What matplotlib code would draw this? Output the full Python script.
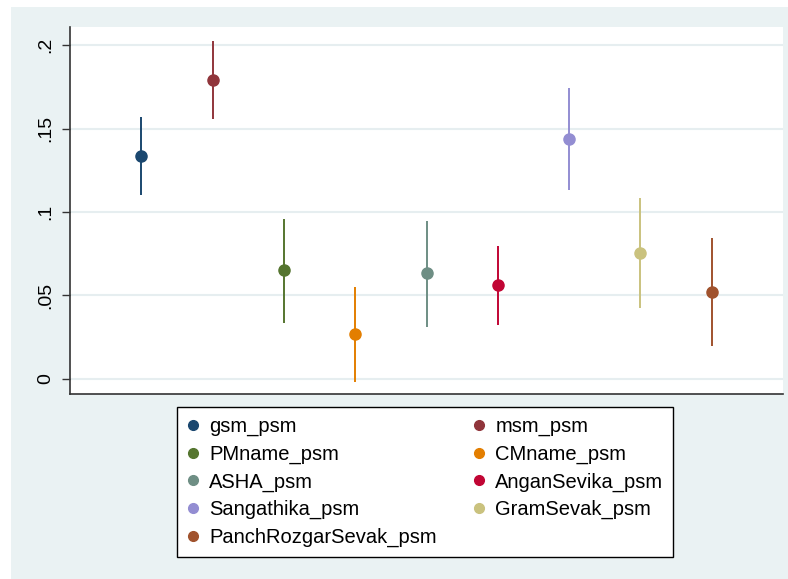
import matplotlib
matplotlib.use("Agg")
import matplotlib.pyplot as plt
from matplotlib.lines import Line2D
from matplotlib.patches import Rectangle

plt.rcParams['font.family'] = ['Liberation Sans', 'DejaVu Sans']

# coefficient estimates with 95% confidence bounds
names = ["gsm_psm", "msm_psm", "PMname_psm", "CMname_psm", "ASHA_psm",
         "AnganSevika_psm", "Sangathika_psm", "GramSevak_psm", "PanchRozgarSevak_psm"]
coef = [0.1335, 0.179, 0.0651, 0.0269, 0.0635, 0.0561, 0.1437, 0.0754, 0.0519]
lower = [0.110, 0.1555, 0.0337, -0.0016, 0.0313, 0.0323, 0.1132, 0.0423, 0.0196]
upper = [0.157, 0.2026, 0.0958, 0.0553, 0.0948, 0.0796, 0.1743, 0.1086, 0.0842]
colors = ["#1A476F", "#90353B", "#55752F", "#E37E00", "#6E8E84",
          "#C10534", "#938DD2", "#CAC27E", "#A0522D"]
yticks = [0, 0.05, 0.1, 0.15, 0.2]
ytick_labels = ["0", ".05", ".1", ".15", ".2"]

W, H = 788, 579
bg = "#EAF2F3"

fig = plt.figure(figsize=(W / 100, H / 100), dpi=100)
fig.patch.set_facecolor("white")
# graph region
fig.patches.append(Rectangle((11 / W, 0), 1 - 11 / W, 1 - 7 / H,
                             transform=fig.transFigure, facecolor=bg,
                             edgecolor="none", zorder=-5))

ax = fig.add_axes([70 / W, (H - 394) / H, 713 / W, (394 - 27) / H])
ax.set_facecolor("white")
ax.set_zorder(1)

for i, (c, lo, hi, col) in enumerate(zip(coef, lower, upper, colors)):
    x = i + 1
    ax.vlines(x, lo, hi, color=col, linewidth=1.4, zorder=3)
    ax.plot(x, c, "o", color=col, markersize=8, zorder=4)

ax.set_xlim(0, 10)
ax.set_ylim(-0.009, 0.2108)
ax.set_xticks([])
ax.set_yticks(yticks)
ax.set_yticklabels(ytick_labels, rotation=90, va="center", fontsize=14)
ax.tick_params(axis="y", length=6, width=1, pad=5, color="#333333")
ax.grid(axis="y", color="#E6EEF0", linewidth=1.5)
ax.set_axisbelow(True)
for s in ["top", "right"]:
    ax.spines[s].set_visible(False)
for s in ["left", "bottom"]:
    ax.spines[s].set_color("#333333")
    ax.spines[s].set_linewidth(1.2)

# legend laid out row by row, two columns
handles = [Line2D([], [], marker="o", linestyle="none", color=col, markersize=7)
           for col in colors]
order = [0, 2, 4, 6, 8, 1, 3, 5, 7]
leg = fig.legend([handles[k] for k in order], [names[k] for k in order],
                 ncol=2, loc="upper left",
                 bbox_to_anchor=(177 / W, (H - 407) / H),
                 fontsize=14.5, frameon=True, fancybox=False,
                 edgecolor="black", facecolor="white", framealpha=1,
                 borderpad=0.5, labelspacing=0.42, handletextpad=0.5,
                 handlelength=0.6, columnspacing=1.8, borderaxespad=0)
leg.get_frame().set_linewidth(1.0)
leg.set_zorder(2)

fig.savefig("out.png", dpi=100)
